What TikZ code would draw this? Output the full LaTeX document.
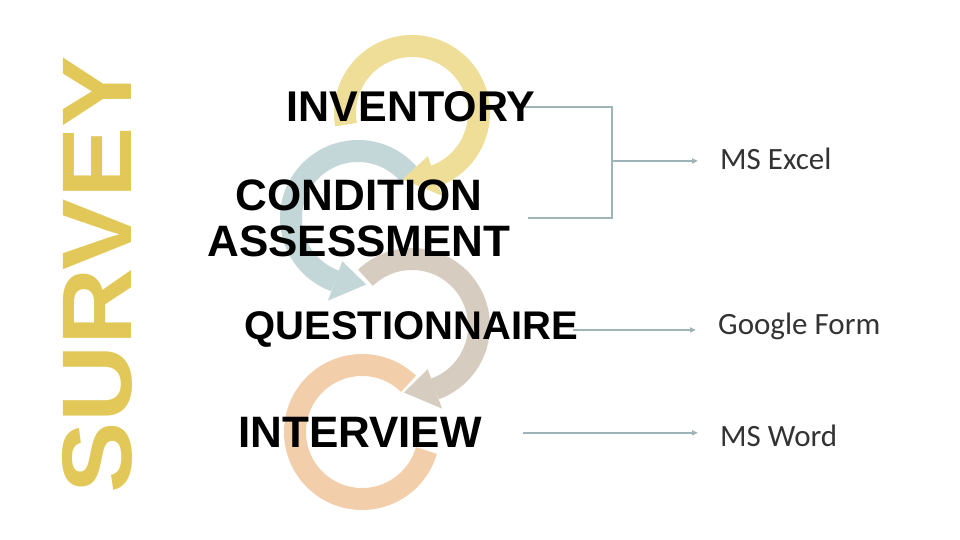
\documentclass[tikz,border=0pt]{standalone}
\usepackage{fontspec}
\setmainfont{Liberation Sans}
\newfontfamily\labelfont{Carlito}
\usetikzlibrary{arrows.meta,calc}

\definecolor{surveygold}{RGB}{226,200,88}
\definecolor{ringyellow}{RGB}{238,222,152}
\definecolor{ringteal}{RGB}{196,215,216}
\definecolor{ringtaupe}{RGB}{214,205,192}
\definecolor{ringorange}{RGB}{243,206,170}
\definecolor{linkgray}{RGB}{158,180,182}

\begin{document}
\begin{tikzpicture}[
    x=1pt, y=1pt,
    ring/.style={line width=22pt},
    stage/.style={
        inner sep=0pt,
        align=center,
        font=\fontsize{44}{46}\selectfont\bfseries
    },
    tool/.style={
        inner sep=0pt,
        anchor=base west,
        text=black!80,
        font=\labelfont\fontsize{31}{31}\selectfont
    },
    link/.style={
        draw=linkgray,
        line width=1.6pt,
        -{Triangle[length=6pt,width=5pt]}
    }
]
\useasboundingbox (0,0) rectangle (960,540);

\node[rotate=90,text=surveygold,inner sep=0pt,
      font=\fontsize{99}{99}\selectfont\bfseries]
      (survey) at (97,265) {\scalebox{1.08}[1]{SURVEY}};

% Ring centres
\coordinate (cy) at (412,427);
\coordinate (ct) at (358,322);
\coordinate (cq) at (412,214);
\coordinate (co) at (362,108);

% Rings
\draw[ring,ringorange] ($(co)+(46:67)$) arc[start angle=46,end angle=344,radius=67];

\draw[ring,ringtaupe] ($(cq)+(134:67)$) arc[start angle=134,end angle=-70,radius=67];
\fill[ringtaupe] ($(cq)+(-70:46)$) -- ($(cq)+(-70:88)$) -- ($(cq)+(-97:67)$) -- cycle;

\draw[ring,ringteal] ($(ct)+(41:67)$) arc[start angle=41,end angle=250,radius=67];
\fill[ringteal] ($(ct)+(250:46)$) -- ($(ct)+(250:88)$) -- ($(ct)+(277:67)$) -- cycle;

\draw[ring,ringyellow] ($(cy)+(190:67)$) arc[start angle=190,end angle=-70,radius=67];
\fill[ringyellow] ($(cy)+(-70:46)$) -- ($(cy)+(-70:88)$) -- ($(cy)+(-98:67)$) -- cycle;

% Stages
\node[stage,anchor=base,font=\fontsize{43}{43}\selectfont\bfseries] (inv) at (411,418) {INVENTORY};
\node[stage] (cond) at (359,322) {CONDITION\\ASSESSMENT};
\node[stage,anchor=base,font=\fontsize{40}{40}\selectfont\bfseries] (quest) at (411,200) {QUESTIONNAIRE};
\node[stage,anchor=base] (intv) at (360,92) {INTERVIEW};

% Tools
\node[tool] (excel) at (720,370) {MS Excel};
\node[tool] (gform) at (718,205) {Google Form};
\node[tool] (word) at (720,93) {MS Word};

% Links
\coordinate (split) at (612,379);
\draw[link,-] ([xshift=-10pt]inv.east) -| (split);
\draw[link,-] ([xshift=17pt]cond.east) -| (split);
\draw[link,shorten >=22pt] (split) -- (split -| excel.west);
\draw[link,shorten >=22pt] ([xshift=-5pt]quest.east) -- (quest.east -| gform.west);
\draw[link,shorten >=22pt] ([xshift=41pt]intv.east) -- (intv.east -| word.west);

\end{tikzpicture}
\end{document}
